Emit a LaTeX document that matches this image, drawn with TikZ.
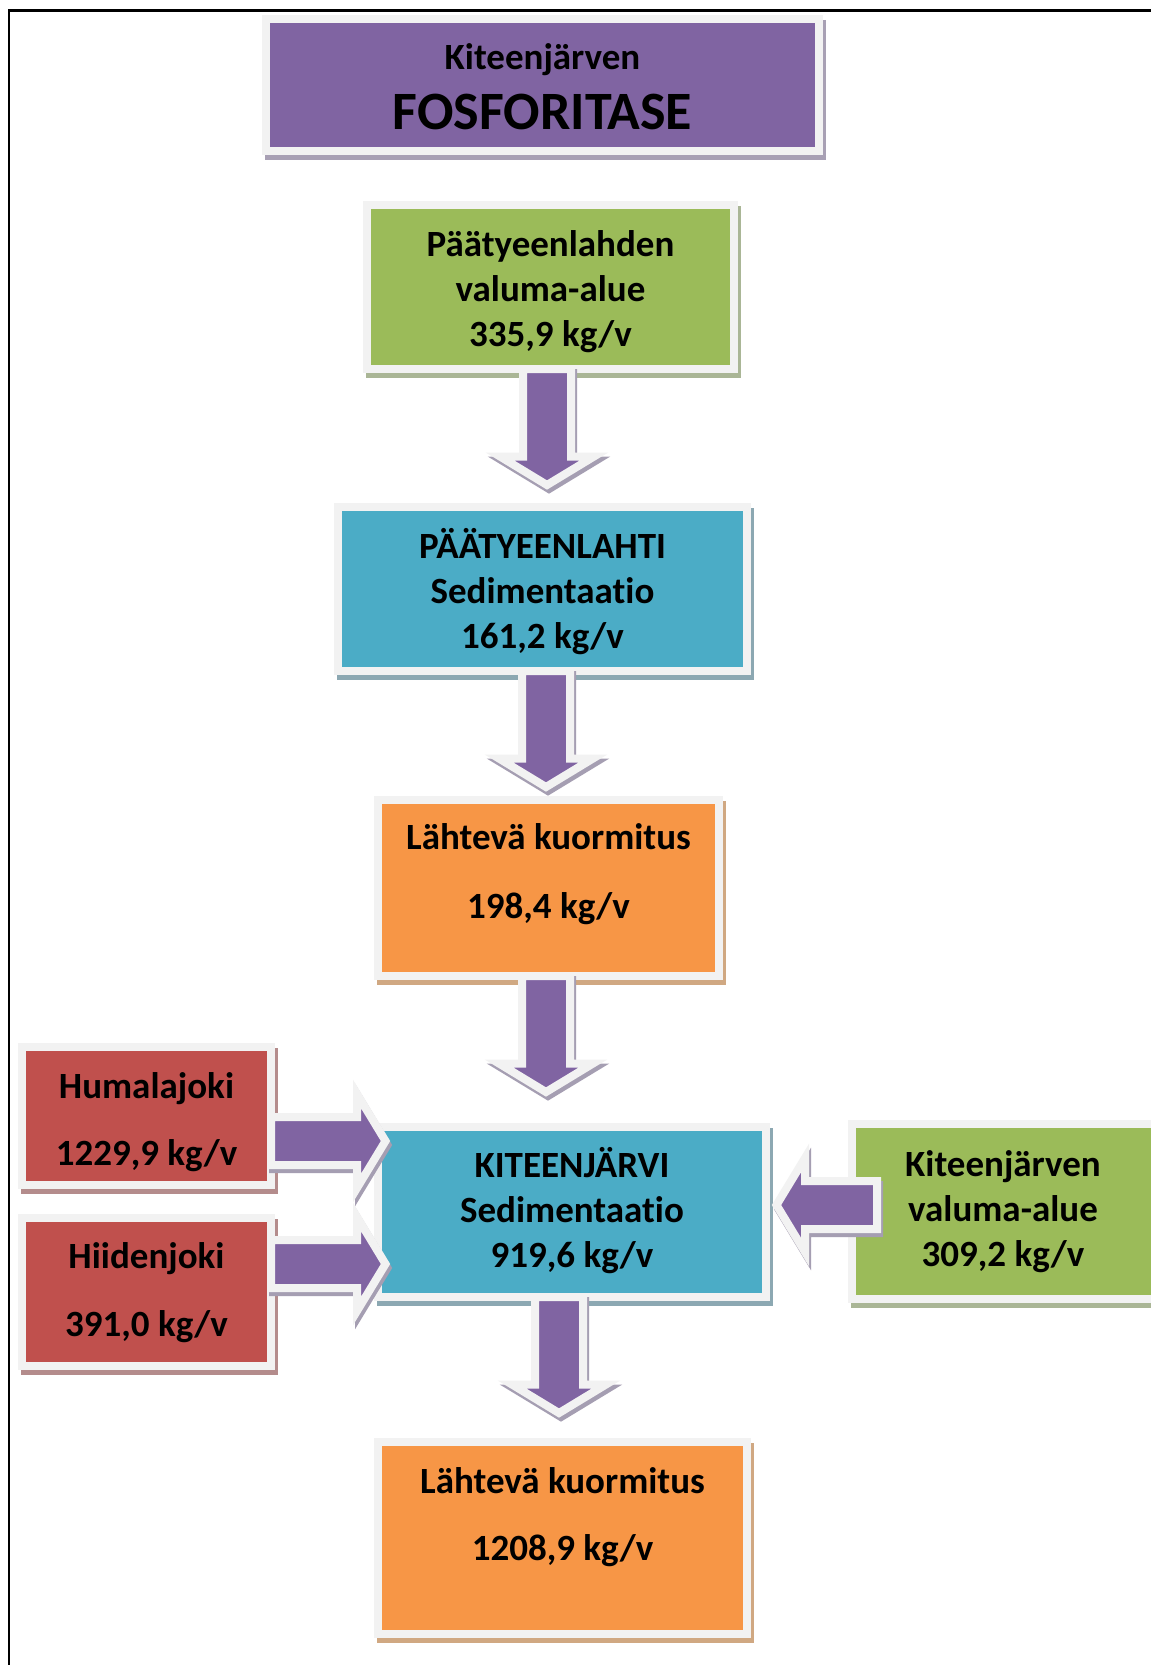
\documentclass[tikz,border=0pt]{standalone}
\usepackage{fontspec}
\setmainfont{Carlito}[Ligatures={NoCommon}]
\usetikzlibrary{calc}
\definecolor{cPurple}{HTML}{8064A2}
\definecolor{cGreen}{HTML}{9BBB59}
\definecolor{cBlue}{HTML}{4BACC6}
\definecolor{cOrange}{HTML}{F79646}
\definecolor{cRed}{HTML}{C0504D}
\definecolor{cBorder}{HTML}{F2F2F2}
\definecolor{sPurple}{HTML}{A8A0B4}
\definecolor{sGreen}{HTML}{AAB696}
\definecolor{sBlue}{HTML}{8CA8B2}
\definecolor{sOrange}{HTML}{D0A882}
\definecolor{sRed}{HTML}{B48C8C}
\definecolor{sArrow}{HTML}{A59EB2}
\newcommand\ls{\rule[-10.4pt]{0pt}{44.4pt}}
% block arrow: #1 start point, #2 rotation, #3 shaft length
\newcommand\blockarr[3]{%
  \fill[sArrow, draw=sArrow, line width=8pt, line join=miter, shift={($(#1)+(2,4)$)}, rotate=#2]
    (-24,0) -- (-24,#3) -- (-47,#3) -- (0,#3+28.5) -- (47,#3) -- (24,#3) -- (24,0) -- cycle;
  \draw[blockarrow, shift={(#1)}, rotate=#2]
    (-24,0) -- (-24,#3) -- (-47,#3) -- (0,#3+28.5) -- (47,#3) -- (24,#3) -- (24,0) -- cycle;
}
\begin{document}
\begin{tikzpicture}[x=1pt, y=-1pt,
  box/.style 2 args={rectangle, draw=cBorder, fill=#1, line width=8pt, outer sep=0pt, inner sep=0pt,
    preaction={draw=#2, fill=#2, line width=8pt, transform canvas={shift={(3,5)}}}},
  txt/.style={align=center, inner sep=0pt, font=\fontsize{37}{45}\selectfont\bfseries},
  blockarrow/.style={draw=cBorder, fill=cPurple, line width=8pt, line join=miter}]
\useasboundingbox (0,0) rectangle (1151,1665);
\fill[white] (0,0) rectangle (1151,1665);
% frame
\draw[line width=2.7pt, line join=miter] (9,1675) -- (9,10.7) -- (1165,10.7);

% boxes
\node[box={cPurple}{sPurple}, minimum width=553pt, minimum height=132pt] (t0) at (542.5,85) {};
\node[box={cGreen}{sGreen}, minimum width=367pt, minimum height=164pt] (g1) at (550.5,287) {};
\node[box={cBlue}{sBlue}, minimum width=409pt, minimum height=164pt] (b1) at (542.5,589) {};
\node[box={cOrange}{sOrange}, minimum width=341pt, minimum height=176pt] (o1) at (548.5,888) {};
\node[box={cRed}{sRed}, minimum width=249pt, minimum height=138pt] (r1) at (146.5,1116) {};
\node[box={cRed}{sRed}, minimum width=249pt, minimum height=148pt] (r2) at (146.5,1292) {};
\node[box={cBlue}{sBlue}, minimum width=388pt, minimum height=170pt] (b2) at (572,1212) {};
\node[box={cGreen}{sGreen}, minimum width=304pt, minimum height=175pt] (g2) at (1004,1211.5) {};
\node[box={cOrange}{sOrange}, minimum width=369pt, minimum height=192pt] (o2) at (562.5,1538) {};

% texts
\node[anchor=base, inner sep=0pt, font=\fontsize{37}{45}\selectfont\bfseries] (t0a) at ($(t0.center)+(0,-15.5)$) {Kiteenjärven};
\node[anchor=base, inner sep=0pt, font=\fontsize{54}{60}\selectfont\bfseries] (t0b) at ($(t0.center)+(0,44.5)$) {FOSFORITASE};
\node[txt] (g1t) at ($(g1.center)+(0,2.5)$) {\ls Päätyeenlahden\\\ls valuma-alue\\\ls 335,9 kg/v};
\node[txt] (b1t) at ($(b1.center)+(0,2.5)$) {\ls PÄÄTYEENLAHTI\\\ls Sedimentaatio\\\ls 161,2 kg/v};
\node[txt] (o1t) at ($(o1.center)+(0,-16)$) {\ls Lähtevä kuormitus\\[24pt]\ls 198,4 kg/v};
\node[txt] (r1t) at ($(r1.center)+(0,4)$) {\ls Humalajoki\\[22pt]\ls 1229,9 kg/v};
\node[txt] (r2t) at ($(r2.center)+(0,-1.5)$) {\ls Hiidenjoki\\[23pt]\ls 391,0 kg/v};
\node[txt] (b2t) at ($(b2.center)+(0,-1.5)$) {\ls KITEENJÄRVI\\\ls Sedimentaatio\\\ls 919,6 kg/v};
\node[txt] (g2t) at ($(g2.center)+(-1,-2)$) {\ls Kiteenjärven\\\ls valuma-alue\\\ls 309,2 kg/v};
\node[txt] (o2t) at ($(o2.center)+(0,-23)$) {\ls Lähtevä kuormitus\\[22pt]\ls 1208,9 kg/v};

% block arrows
\coordinate (a1) at ($(g1.south)+(-3.5,0)$);
\coordinate (a2) at ($(b1.south)+(3.5,0)$);
\coordinate (a3) at ($(o1.south)+(-2.5,0)$);
\coordinate (a4) at ($(b2.south)+(-13,0)$);
\coordinate (h1) at ($(r1.east)+(0,25)$);
\coordinate (h2) at ($(r2.east)+(0,-28)$);
\coordinate (h3) at ($(g2.west)+(25,-6.5)$);
\blockarr{a1}{0}{87.5}
\blockarr{a2}{0}{87.5}
\blockarr{a3}{0}{87.5}
\blockarr{a4}{0}{87.5}
\blockarr{h1}{90}{86}
\blockarr{h2}{90}{86}
\blockarr{h3}{-90}{72}
\end{tikzpicture}
\end{document}
